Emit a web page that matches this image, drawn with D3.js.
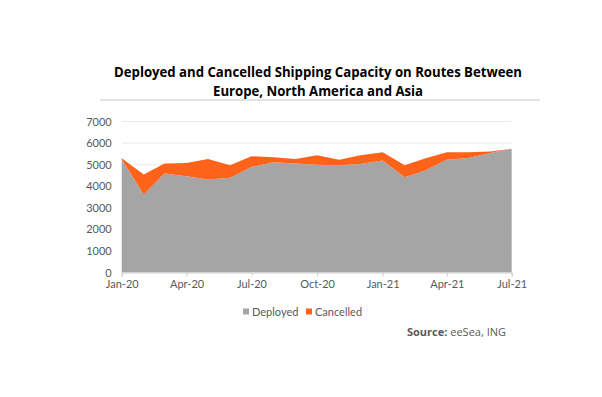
<!DOCTYPE html>
<html>
<head>
<meta charset="utf-8">
<script src="https://cdn.jsdelivr.net/npm/d3@7"></script>
<style>
  body { margin: 0; background: #fff; }
  svg { display: block; }
</style>
</head>
<body>
<div id="chart"></div>
<script>
// 月份（2020年1月 - 2021年7月）
var months = ["2020-01", "2020-02", "2020-03", "2020-04", "2020-05", "2020-06", "2020-07",
  "2020-08", "2020-09", "2020-10", "2020-11", "2020-12", "2021-01", "2021-02", "2021-03",
  "2021-04", "2021-05", "2021-06", "2021-07"];
// 已部署运力
var deployed = [5250, 3620, 4590, 4460, 4310, 4390, 4890, 5110, 5050, 5000,
  4970, 5030, 5190, 4420, 4720, 5230, 5310, 5540, 5740];
// 取消运力
var cancelled = [50, 920, 460, 620, 950, 580, 500, 230, 210, 430,
  260, 400, 380, 550, 570, 340, 260, 75, 0];
var yTicks = [0, 1000, 2000, 3000, 4000, 5000, 6000, 7000];
var xTickMonths = ["2020-01", "2020-04", "2020-07", "2020-10", "2021-01", "2021-04", "2021-07"];
var seriesNames = ["Deployed", "Cancelled"];
var seriesColor = {"Deployed": "#a5a5a5", "Cancelled": "#ff6319"};

var W = 602, H = 397;
var svg = d3.select("#chart").append("svg").attr("width", W).attr("height", H);

var parse = d3.timeParse("%Y-%m");
var fmt = d3.timeFormat("%b-%y");

var x = d3.scaleTime()
  .domain([parse(months[0]), parse(months[months.length - 1])])
  .range([121.7, 511.7]);
var y = d3.scaleLinear().domain([0, 7000]).range([272.5, 121.5]);

// 标题
var title = svg.append("text")
  .attr("text-anchor", "middle")
  .style("font-family", "'Open Sans', sans-serif")
  .style("font-weight", "bold")
  .style("font-size", "14.5px")
  .attr("fill", "#000");
title.append("tspan").attr("x", 318).attr("y", 77)
  .attr("textLength", 408).attr("lengthAdjust", "spacingAndGlyphs")
  .text("Deployed and Cancelled Shipping Capacity on Routes Between");
title.append("tspan").attr("x", 318).attr("y", 96)
  .attr("textLength", 210).attr("lengthAdjust", "spacingAndGlyphs")
  .text("Europe, North America and Asia");

svg.append("line")
  .attr("x1", 100).attr("x2", 540).attr("y1", 100).attr("y2", 100)
  .attr("stroke", "#d9d9d9").attr("stroke-width", 1.5);

// 网格线
svg.append("g").selectAll("line")
  .data(yTicks.filter(function (d) { return d > 0; }))
  .enter().append("line")
  .attr("x1", 121.7).attr("x2", 511.7)
  .attr("y1", function (d) { return y(d); })
  .attr("y2", function (d) { return y(d); })
  .attr("stroke", "#ebebeb").attr("stroke-width", 1);

// 堆叠面积
var rows = months.map(function (m, i) {
  return {date: parse(m), Deployed: deployed[i], Cancelled: cancelled[i]};
});
var stack = d3.stack().keys(seriesNames)(rows);
var area = d3.area()
  .x(function (d) { return x(d.data.date); })
  .y0(function (d) { return y(d[0]); })
  .y1(function (d) { return y(d[1]); });

svg.append("g").selectAll("path")
  .data(stack)
  .enter().append("path")
  .attr("d", area)
  .attr("fill", function (d) { return seriesColor[d.key]; });

// 坐标轴
var tickFont = "Lato, 'Open Sans', sans-serif";
var yAxis = svg.append("g")
  .attr("transform", "translate(121.7,0)")
  .call(d3.axisLeft(y).tickValues(yTicks).tickFormat(d3.format("d"))
    .tickSize(0).tickPadding(10));
yAxis.select(".domain").remove();
yAxis.selectAll("text")
  .style("font-family", tickFont).style("font-size", "11px").attr("fill", "#595959");

var xAxis = svg.append("g")
  .attr("transform", "translate(0,272.5)")
  .call(d3.axisBottom(x).tickValues(xTickMonths.map(parse)).tickFormat(fmt)
    .tickSize(4).tickPadding(4));
xAxis.select(".domain").attr("stroke", "#d0d0d0");
xAxis.selectAll(".tick line").attr("stroke", "#d0d0d0");
xAxis.selectAll("text")
  .style("font-family", tickFont).style("font-size", "11px").attr("fill", "#595959");

// 图例
var legend = svg.append("g").attr("transform", "translate(243,312)");
var legendItem = legend.selectAll(".legendItem")
  .data(seriesNames)
  .enter().append("g")
  .attr("class", "legendItem")
  .attr("transform", function (d, i) { return "translate(" + (i * 63) + ",0)"; });
legendItem.append("rect")
  .attr("x", 0).attr("y", -3.5).attr("width", 6).attr("height", 6)
  .attr("fill", function (d) { return seriesColor[d]; });
legendItem.append("text")
  .attr("x", 9).attr("y", 0).attr("dy", "0.35em")
  .style("font-family", tickFont).style("font-size", "11px").attr("fill", "#595959")
  .text(function (d) { return d; });

// 数据来源
var src = svg.append("text")
  .attr("x", 407).attr("y", 336)
  .style("font-family", "'Open Sans', sans-serif").style("font-size", "11px")
  .attr("fill", "#595959");
src.append("tspan").style("font-weight", "bold").text("Source:");
src.append("tspan").text(" eeSea, ING");
</script>
</body>
</html>
